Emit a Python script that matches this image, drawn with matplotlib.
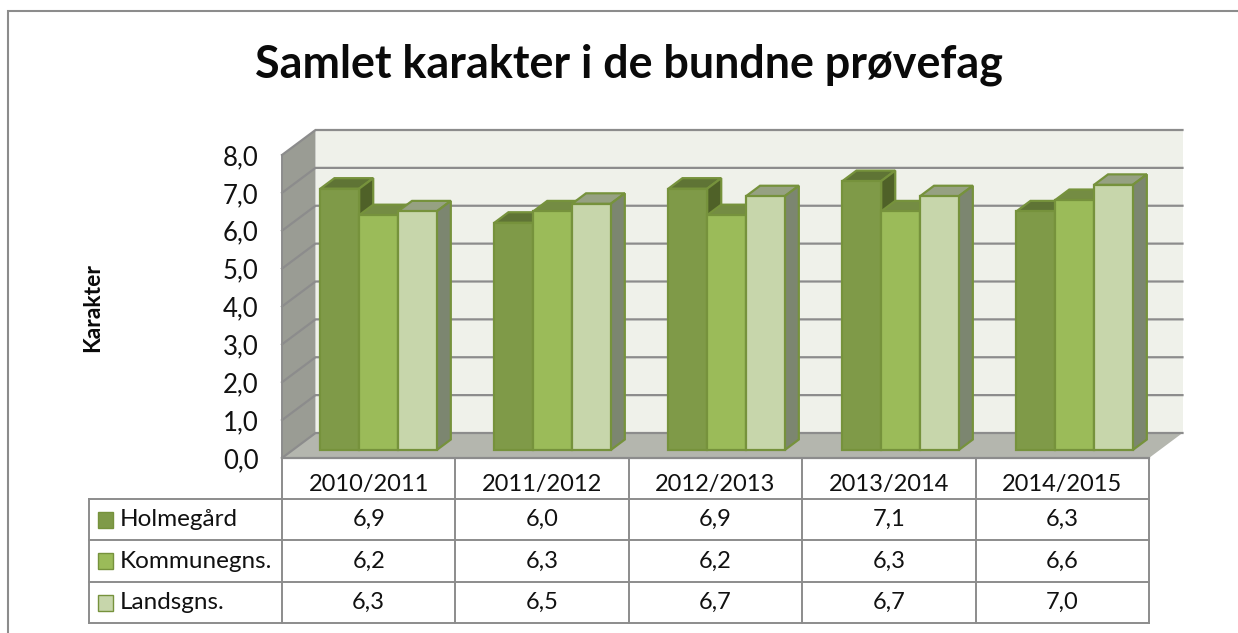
import matplotlib
matplotlib.use("Agg")
import matplotlib.pyplot as plt

# data
years = ["2010/2011", "2011/2012", "2012/2013", "2013/2014", "2014/2015"]
series_names = ["Holmegård", "Kommunegns.", "Landsgns."]
holmegaard = [6.9, 6.0, 6.9, 7.1, 6.3]
kommune = [6.2, 6.3, 6.2, 6.3, 6.6]
lands = [6.3, 6.5, 6.7, 6.7, 7.0]
y_ticks = [0, 1, 2, 3, 4, 5, 6, 7, 8]

W, H = 1238, 633
plt.rcParams['font.family'] = ['Lato', 'DejaVu Sans']

# colours per series: front, top, side
face = ["#7f9a48", "#9bbb59", "#c7d6ab"]
top = ["#5f7435", "#748c43", "#96a182"]
side = ["#4f6128", "#677d3b", "#7c8670"]
edge = "#76923c"
grid_col = "#8c8c8c"

fig = plt.figure(figsize=(W / 100, H / 100), dpi=100)

# overlay in pixel coordinates for frame, title and table
over = fig.add_axes([0, 0, 1, 1], zorder=3)
over.set_xlim(0, W)
over.set_ylim(H, 0)
over.axis("off")
over.patch.set_alpha(0)

# main axes = front plane of the 3d box
x0, x1, y_bot, y_top = 282, 1149, 458, 155
ax = fig.add_axes([x0 / W, 1 - y_bot / H, (x1 - x0) / W, (y_bot - y_top) / H], zorder=2)
ax.set_xlim(0, len(years))
ax.set_ylim(0, 8)
ax.patch.set_alpha(0)
for s in ax.spines.values():
    s.set_visible(False)
ax.set_xticks([])
ax.set_yticks(y_ticks)
ax.set_yticklabels(["%d,0" % t for t in y_ticks], fontsize=18.5, color="#111111")
ax.tick_params(axis="y", length=0, pad=17)

# depth of the box in data units
DX = 33.5 / ((x1 - x0) / len(years))
DY = 25 / ((y_bot - y_top) / 8)


def pt(x, y, d):
    return x + d * DX, y + d * DY


def poly(pts, fc, ec="none", lw=0, z=1):
    xs, ys = zip(*pts)
    ax.fill(xs, ys, facecolor=fc, edgecolor=ec, linewidth=lw, zorder=z,
            clip_on=False, joinstyle="miter")


n = len(years)
# walls and floor
poly([pt(0, 0, 1), pt(n, 0, 1), pt(n, 8, 1), pt(0, 8, 1)], "#eff1ea")
poly([pt(0, 0, 0), pt(0, 0, 1), pt(0, 8, 1), pt(0, 8, 0)], "#9a9c94")
poly([pt(0, 0, 0), pt(n, 0, 0), pt(n, 0, 1), pt(0, 0, 1)], "#b4b6ae")

# gridlines on the walls
for t in y_ticks:
    a, b, c = pt(0, t, 0), pt(0, t, 1), pt(n, t, 1)
    ax.plot([a[0], b[0], c[0]], [a[1], b[1], c[1]], color=grid_col, lw=1.6,
            zorder=1.5, clip_on=False, solid_joinstyle="miter")
ax.plot([0, 0], [0, 8], color=grid_col, lw=1.4, zorder=1.5, clip_on=False)

# bars, left to right so each one covers the side of the one before
bar_w = 0.2237
d0, d1 = 0.32, 0.74
all_vals = [holmegaard, kommune, lands]
z = 2
for i in range(n):
    left = i * 1.0035 + 0.5 - 1.5 * bar_w - 0.005
    for j, vals in enumerate(all_vals):
        v = vals[i]
        l, r = left + j * bar_w, left + (j + 1) * bar_w
        poly([pt(l, v, d0), pt(r, v, d0), pt(r, v, d1), pt(l, v, d1)], top[j], edge, 1.6, z)
        poly([pt(r, 0, d0), pt(r, 0, d1), pt(r, v, d1), pt(r, v, d0)], side[j], edge, 1.6, z)
        poly([pt(l, 0, d0), pt(r, 0, d0), pt(r, v, d0), pt(l, v, d0)], face[j], edge, 1.6, z + 0.1)
        z += 0.2

# outer chart frame
frame = "#8c8c8c"
over.plot([8, 8, W], [H, 11, 11], color=frame, lw=1.5, solid_joinstyle="miter")

# title and axis label
over.text(629, 65, "Samlet karakter i de bundne prøvefag", fontsize=32.3, fontweight="bold",
          ha="center", va="center", color="#0a0a0a")
over.text(93, 307, "Karakter", fontsize=16.5, fontweight="bold", rotation=90,
          ha="center", va="center", color="#0a0a0a")

# data table under the chart
tbl = "#8c8c8c"
col_x = [282 + k * (x1 - x0) / n for k in range(n + 1)]
row_y = [458, 499, 540, 582, 623]
lab_x = 89
over.plot([x0, x1], [row_y[0], row_y[0]], color=tbl, lw=1.6)
for yy in row_y[1:]:
    over.plot([lab_x, x1], [yy, yy], color=tbl, lw=1.4)
over.plot([lab_x, lab_x], [row_y[1], row_y[4]], color=tbl, lw=1.4)
for xx in col_x:
    over.plot([xx, xx], [row_y[0], row_y[4]], color=tbl, lw=1.4)

for k, yr in enumerate(years):
    cx = (col_x[k] + col_x[k + 1]) / 2
    over.text(cx, 484, yr, fontsize=17, ha="center", va="center", color="#111111")
    for j, vals in enumerate(all_vals):
        over.text(cx, (row_y[j + 1] + row_y[j + 2]) / 2, ("%.1f" % vals[k]).replace(".", ","),
                  fontsize=17, ha="center", va="center", color="#111111")

for j, name in enumerate(series_names):
    cy = (row_y[j + 1] + row_y[j + 2]) / 2
    over.fill([98, 113, 113, 98], [cy - 8, cy - 8, cy + 8, cy + 8], facecolor=face[j],
              edgecolor=edge, linewidth=1)
    over.text(120, cy, name, fontsize=17.5, ha="left", va="center", color="#111111")

fig.savefig("out.png", dpi=100)
